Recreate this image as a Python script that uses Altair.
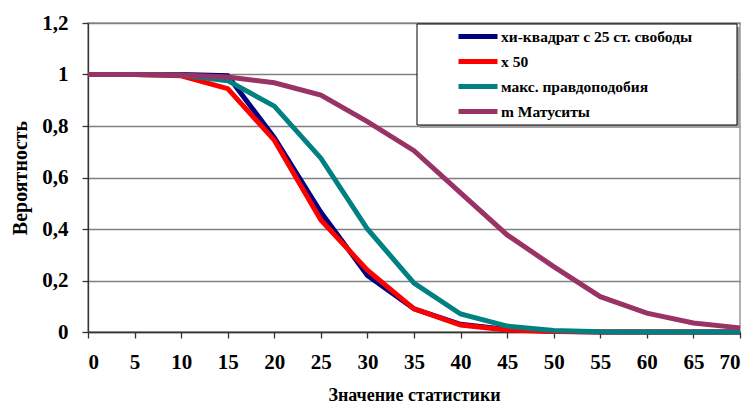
import altair as alt
import pandas as pd

x_vals = [0, 5, 10, 15, 20, 25, 30, 35, 40, 45, 50, 55, 60, 65, 70]
chi_sq = [1, 1, 1, 0.995, 0.755, 0.465, 0.22, 0.09, 0.03, 0.01, 0.003, 0, 0, 0, 0]
x50 = [1, 1, 0.995, 0.945, 0.745, 0.435, 0.24, 0.09, 0.027, 0.008, 0.002, 0, 0, 0, 0]
max_like = [1, 1, 0.998, 0.976, 0.877, 0.675, 0.40, 0.19, 0.07, 0.023, 0.006, 0.001, 0, 0, 0]
matusita = [1, 1, 0.998, 0.99, 0.968, 0.92, 0.817, 0.704, 0.54, 0.377, 0.254, 0.137, 0.073, 0.035, 0.016]

series_names = ["хи-квадрат с 25 ст. свободы", "x 50", "макс. правдоподобия", "m Матуситы"]
series_colors = ["#000080", "#FF0000", "#008080", "#993366"]
series_values = [chi_sq, x50, max_like, matusita]

rows = []
for order, (name, vals) in enumerate(zip(series_names, series_values)):
    for xv, yv in zip(x_vals, vals):
        rows.append({"x": xv, "y": yv, "series": name, "order": order})
df = pd.DataFrame(rows)

FONT = "Liberation Serif"

lines = alt.Chart(df).mark_line(strokeWidth=5, strokeJoin="miter", clip=False).encode(
    x=alt.X("x:Q", scale=alt.Scale(domain=[0, 70], nice=False),
            axis=alt.Axis(values=x_vals, title="Значение статистики", grid=False,
                          tickSize=6, labelPadding=13, titlePadding=14,
                          labelFontSize=21, titleFontSize=18)),
    y=alt.Y("y:Q", scale=alt.Scale(domain=[0, 1.2], nice=False),
            axis=alt.Axis(values=[0, 0.2, 0.4, 0.6, 0.8, 1.0, 1.2], title="Вероятность",
                          grid=True, tickSize=6, labelPadding=14, titlePadding=11,
                          labelFontSize=21, titleFontSize=20,
                          labelExpr="datum.value == 0 ? '0' : datum.value == 1 ? '1' : replace(format(datum.value, '.1f'), '.', ',')")),
    color=alt.Color("series:N", sort=series_names,
                    scale=alt.Scale(domain=series_names, range=series_colors),
                    legend=alt.Legend(title=None, orient="none", legendX=377.5, legendY=1,
                                      symbolType="M-1.95,0H1.95", symbolSize=400, symbolStrokeWidth=5,
                                      symbolOffset=0,
                                      labelFontSize=15.5, labelFont=FONT, labelFontWeight="bold",
                                      labelColor="black",
                                      labelOffset=10.5, rowPadding=2, padding=0, labelLimit=300)),
    order=alt.Order("order:Q"),
)

shadow = alt.Chart(pd.DataFrame({"a": [0]})).mark_rect(fill="#A0A0A0").encode(
    x=alt.value(332), x2=alt.value(652), y=alt.value(4), y2=alt.value(105))
box = alt.Chart(pd.DataFrame({"a": [0]})).mark_rect(fill="white", stroke="black", strokeWidth=1).encode(
    x=alt.value(329), x2=alt.value(649), y=alt.value(1), y2=alt.value(102))

chart = alt.layer(lines, shadow, box).properties(
    width=652, height=309,
    autosize=alt.AutoSizeParams(type="none"),
    padding={"left": 80, "top": 15, "right": 3, "bottom": 72},
).configure_view(stroke="#999999", strokeWidth=1.5).configure_axis(
    labelFont=FONT, titleFont=FONT, labelFontWeight="bold", titleFontWeight="bold",
    labelColor="black", titleColor="black", domainColor="#333333", tickColor="#333333",
    gridColor="#808080", gridWidth=1.3, domainWidth=1.3, tickWidth=1.3,
)

chart.save("out.html", embed_options={"renderer": "svg", "actions": False})
